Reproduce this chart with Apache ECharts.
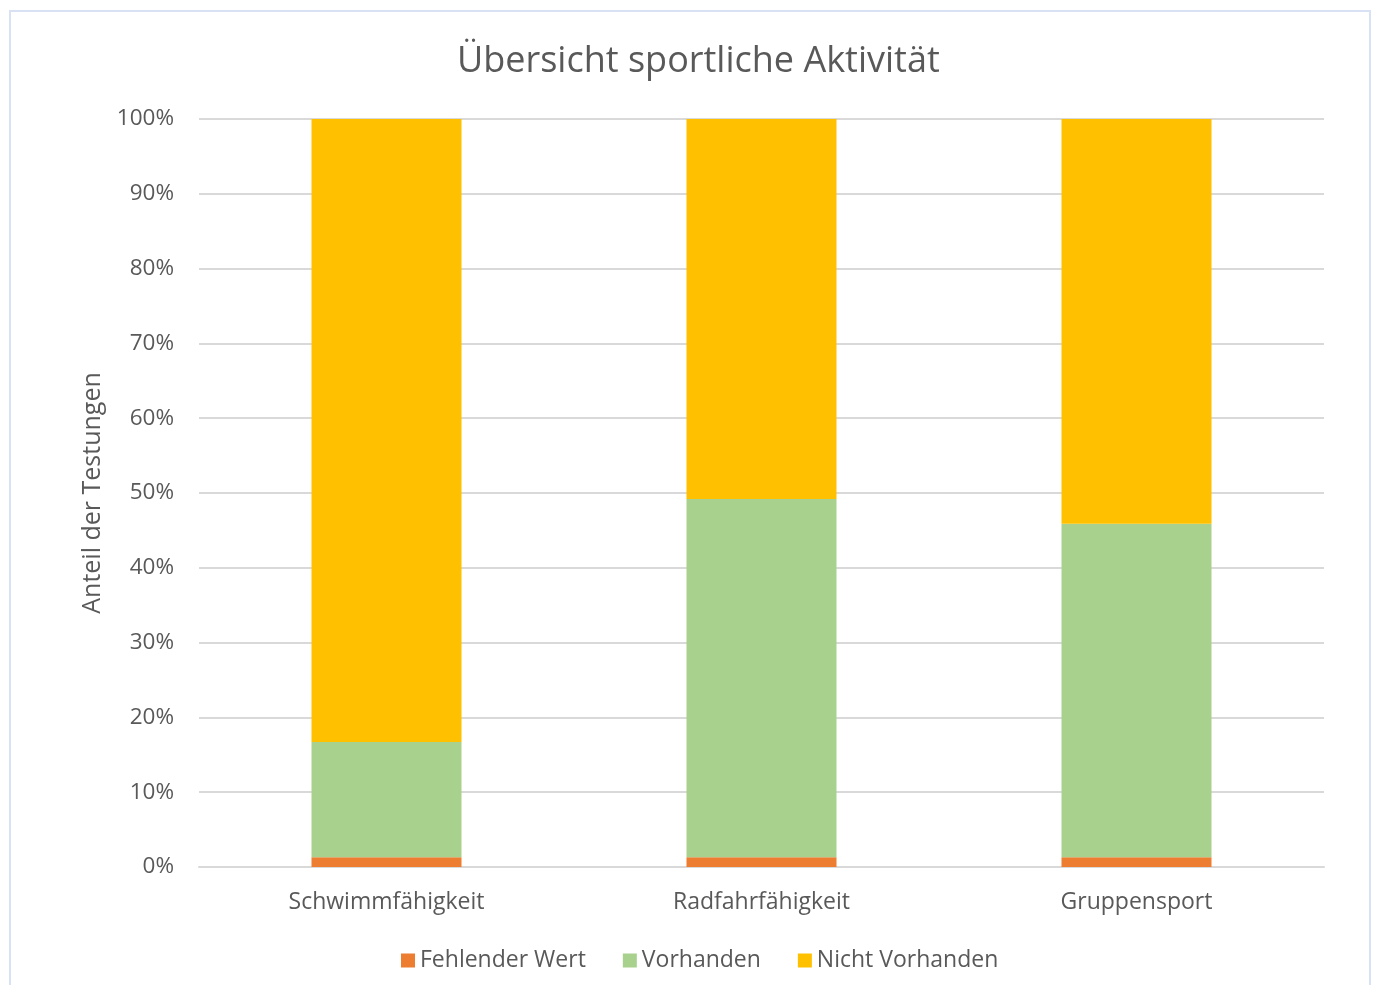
<!DOCTYPE html>
<html>
<head>
<meta charset="utf-8">
<script src="https://cdn.jsdelivr.net/npm/echarts@6/dist/echarts.min.js"></script>
<style>html,body{margin:0;padding:0;background:#fff}#c{width:1375px;height:985px}</style>
</head>
<body>
<div id="c"></div>
<script>
const categories = ['Schwimmfähigkeit', 'Radfahrfähigkeit', 'Gruppensport'];
const fehlenderWert = [1.3, 1.3, 1.3];
const vorhanden = [15.4, 47.9, 44.6];
const nichtVorhanden = [83.3, 50.8, 54.1];
const yTicks = [0, 10, 20, 30, 40, 50, 60, 70, 80, 90, 100];

const font = '"Open Sans", "Noto Sans", sans-serif';
const chart = echarts.init(document.getElementById('c'));
chart.setOption({
  backgroundColor: '#fff',
  animation: false,
  graphic: [{
    type: 'rect', shape: {x: 10, y: 11, width: 1360, height: 1000},
    style: {fill: 'none', stroke: '#D9E1F5', lineWidth: 2}, silent: true
  }],
  title: {
    text: 'Übersicht sportliche Aktivität', left: 452, top: 39,
    textStyle: {fontFamily: font, fontSize: 36, fontWeight: 'normal', color: '#595959'}
  },
  legend: {
    bottom: 8, left: 396, itemWidth: 14, itemHeight: 14, itemGap: 37,
    icon: 'rect',
    textStyle: {fontFamily: font, fontSize: 23, color: '#595959'}
  },
  grid: {left: 199, right: 51, top: 119, bottom: 118},
  xAxis: {
    type: 'category', data: categories,
    axisLine: {lineStyle: {color: '#D9D9D9', width: 2}},
    axisTick: {show: false},
    axisLabel: {fontFamily: font, fontSize: 23, color: '#595959', margin: 24}
  },
  yAxis: {
    type: 'value', min: 0, max: 100, interval: 10,
    name: 'Anteil der Testungen', nameLocation: 'middle', nameGap: 94,
    nameTextStyle: {fontFamily: font, fontSize: 25, color: '#595959'},
    axisLine: {show: false}, axisTick: {show: false},
    axisLabel: {fontFamily: font, fontSize: 22.5, color: '#595959', margin: 25,
      formatter: v => yTicks.includes(v) ? v + '%' : ''},
    splitLine: {lineStyle: {color: '#D9D9D9', width: 2}}
  },
  series: [
    {name: 'Fehlender Wert', type: 'bar', stack: 't', data: fehlenderWert, barWidth: '40%', itemStyle: {color: '#ED7D31'}},
    {name: 'Vorhanden', type: 'bar', stack: 't', data: vorhanden, barWidth: '40%', itemStyle: {color: '#A9D18E'}},
    {name: 'Nicht Vorhanden', type: 'bar', stack: 't', data: nichtVorhanden, barWidth: '40%', itemStyle: {color: '#FFC000'}}
  ]
});
</script>
</body>
</html>
